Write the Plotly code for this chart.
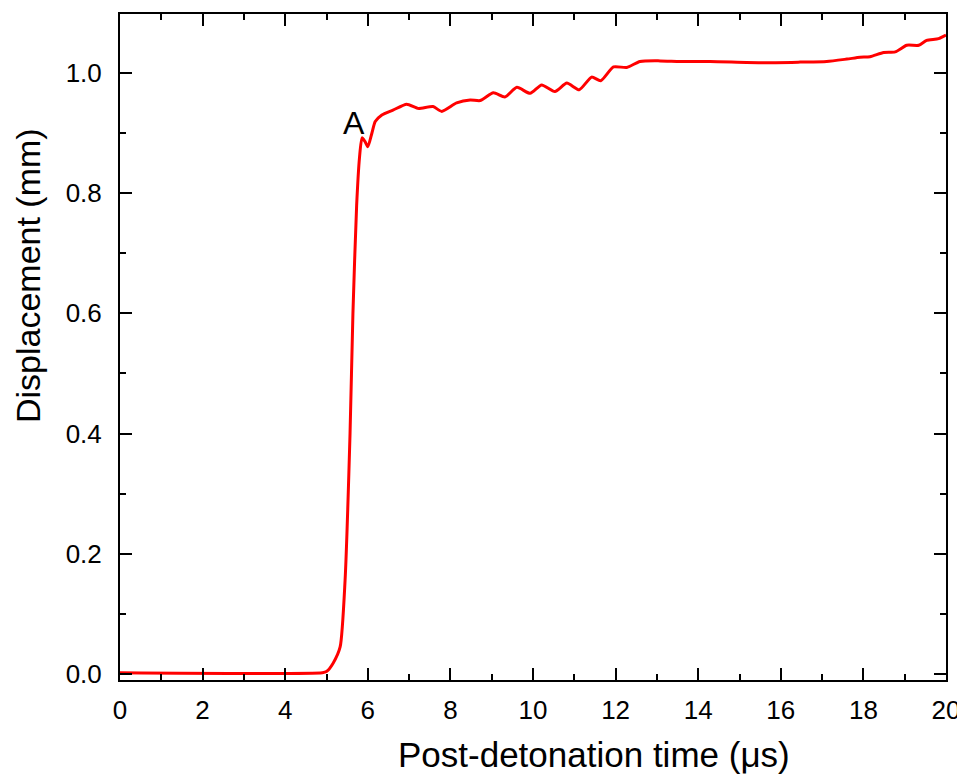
import plotly.graph_objects as go

time_us = [0, 4.9, 5.0, 5.16, 5.33, 5.45, 5.57, 5.64, 5.73, 5.8, 5.86, 5.93, 6.0, 6.1, 6.18,
           6.34, 6.61, 6.94, 7.22, 7.58, 7.79, 8.15, 8.48, 8.72, 9.04, 9.32, 9.61, 9.93,
           10.21, 10.53, 10.82, 11.12, 11.42, 11.64, 11.95, 12.27, 12.59, 13.08, 13.56,
           14.29, 15.5, 16.47, 17.11, 17.6, 17.92, 18.16, 18.49, 18.77, 19.05, 19.34,
           19.53, 19.82, 20.0]
displacement_mm = [0.002, 0.002, 0.004, 0.018, 0.045, 0.156, 0.40, 0.60, 0.78, 0.86, 0.892,
                   0.886, 0.877, 0.90, 0.919, 0.930, 0.938, 0.948, 0.941, 0.944, 0.936,
                   0.950, 0.955, 0.954, 0.967, 0.960, 0.976, 0.966, 0.980, 0.969, 0.983,
                   0.972, 0.993, 0.987, 1.010, 1.009, 1.019, 1.020, 1.019, 1.019, 1.017,
                   1.018, 1.019, 1.023, 1.026, 1.027, 1.034, 1.035, 1.046, 1.046, 1.054,
                   1.057, 1.063]

x_ticks = [0, 2, 4, 6, 8, 10, 12, 14, 16, 18, 20]
y_ticks = [0.0, 0.2, 0.4, 0.6, 0.8, 1.0]
x_title = "Post-detonation time (\u03bcs)"
y_title = "Displacement (mm)"
label_A = "A"
label_A_pos = (5.67, 0.917)

FONT = "Arial, Liberation Sans, sans-serif"

fig = go.Figure()
fig.add_trace(go.Scatter(
    x=time_us, y=displacement_mm, mode="lines",
    line=dict(color="#ff0000", width=3, shape="spline", smoothing=0.6),
    showlegend=False,
))

fig.add_annotation(x=label_A_pos[0], y=label_A_pos[1], text=label_A, showarrow=False,
                   font=dict(family=FONT, size=32, color="black"))

# axis titles (placed off-centre as in the original)
fig.add_annotation(xref="paper", yref="paper", x=0.574, y=-0.112, text=x_title,
                   showarrow=False, xanchor="center", yanchor="middle",
                   font=dict(family=FONT, size=35, color="black"))
fig.add_annotation(xref="paper", yref="paper", x=-0.1114, y=0.608, text=y_title,
                   showarrow=False, xanchor="center", yanchor="middle", textangle=-90,
                   font=dict(family=FONT, size=34, color="black"))

axis_common = dict(
    showline=True, linecolor="black", linewidth=2, mirror="allticks",
    ticks="inside", ticklen=12, tickwidth=2, tickcolor="black",
    showgrid=False, zeroline=False, automargin=False,
    tickfont=dict(family=FONT, size=26, color="black"),
)

fig.update_xaxes(
    range=[0, 20], tickvals=x_ticks, ticktext=[str(v) for v in x_ticks],
    ticklabelstandoff=6,
    minor=dict(ticks="inside", ticklen=6, tickwidth=2, tickcolor="black", dtick=1, tick0=0, showgrid=False),
    **axis_common,
)
fig.update_yaxes(
    range=[-0.01, 1.098], tickvals=y_ticks, ticktext=[f"{v:.1f}" for v in y_ticks],
    ticklabelstandoff=11,
    minor=dict(ticks="inside", ticklen=6, tickwidth=2, tickcolor="black", dtick=0.1, tick0=0, showgrid=False),
    **axis_common,
)

# the page adds an 8 px body margin, so the figure is sized and offset to compensate
fig.update_layout(
    width=957, height=766,
    margin=dict(l=112, r=19, t=6, b=94, pad=0),
    plot_bgcolor="white", paper_bgcolor="white",
)

fig.write_html("out.html")
